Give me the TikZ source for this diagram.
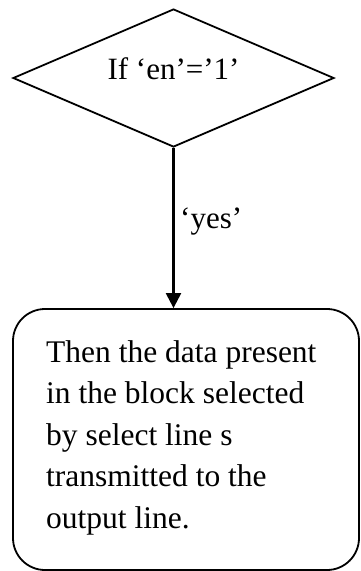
\documentclass[tikz,border=0pt]{standalone}
\usepackage{fontspec}
\setmainfont{Liberation Serif}
\usetikzlibrary{shapes.geometric,arrows.meta}
\begin{document}
\begin{tikzpicture}[x=1pt,y=-1pt,
  decision/.style={draw,line width=1.8pt,diamond,aspect=2.33,inner sep=0pt,
    minimum width=321pt,minimum height=138pt,font=\fontsize{31}{36}\selectfont,
    text height=20pt,text depth=18pt},
  process/.style={draw,line width=1.8pt,rounded corners=32pt,inner sep=0pt,
    minimum width=346pt,minimum height=261pt},
  flow/.style={line width=2.2pt,-{Triangle[length=15pt,width=15pt]}},
  bodytext/.style={font=\fontsize{31.5}{41.5}\selectfont,align=left,inner sep=0pt}]
\useasboundingbox (0,0) rectangle (360,571);
\node[decision] (cond) at (173.5,78) {If ‘en’=’1’};
\node[process] (act) at (186,439.5) {};
% the base of a multi-line node is the baseline of its last line
\node[bodytext,anchor=base west] (desc) at (46,528)
  {Then the data present\\in the block selected\\by select line s\\transmitted to the\\output line.};
\coordinate (tip) at (cond.south |- act.north);
\draw[flow] (cond.south) -- (tip);
\node[font=\fontsize{31}{36}\selectfont,anchor=base west,inner sep=0pt] (yes) at (180,228) {‘yes’};
\end{tikzpicture}
\end{document}
